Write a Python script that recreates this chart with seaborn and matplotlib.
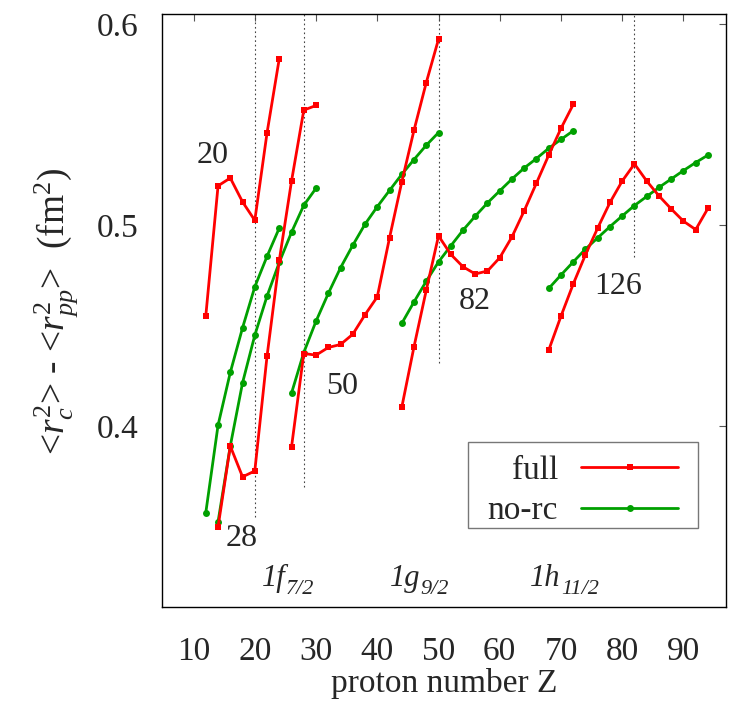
import matplotlib
matplotlib.use("Agg")
import matplotlib.pyplot as plt
import seaborn as sns
from matplotlib.lines import Line2D
from matplotlib.patches import Rectangle

# "full" calculation, one list per chain (even Z only)
z_full_1 = [12, 14, 16, 18, 20, 22, 24]
full_1 = [0.4548, 0.5195, 0.5234, 0.5115, 0.5023, 0.5459, 0.5829]
z_full_2 = [14, 16, 18, 20, 22, 24, 26, 28, 30]
full_2 = [0.3497, 0.3899, 0.3746, 0.3775, 0.4347, 0.4824, 0.5219, 0.5572, 0.5595]
z_full_3 = [26, 28, 30, 32, 34, 36, 38, 40, 42, 44, 46, 48, 50]
full_3 = [0.3895, 0.4360, 0.4352, 0.4390, 0.4405, 0.4456, 0.4553, 0.4642,
          0.4936, 0.5214, 0.5472, 0.5709, 0.5925]
z_full_4 = [44, 46, 48, 50, 52, 54, 56, 58, 60, 62, 64, 66, 68, 70, 72]
full_4 = [0.4092, 0.4394, 0.4675, 0.4946, 0.4854, 0.4792, 0.4756, 0.4771,
          0.4837, 0.4941, 0.5071, 0.5209, 0.5348, 0.5481, 0.5600]
z_full_5 = [68, 70, 72, 74, 76, 78, 80, 82, 84, 86, 88, 90, 92, 94]
full_5 = [0.4377, 0.4546, 0.4706, 0.4852, 0.4985, 0.5112, 0.5219, 0.5304,
          0.5219, 0.5145, 0.5080, 0.5019, 0.4977, 0.5083]

# "no-rc" calculation
z_norc_1 = [12, 14, 16, 18, 20, 22, 24]
norc_1 = [0.3568, 0.4003, 0.4266, 0.4488, 0.4692, 0.4844, 0.4985]
z_norc_2 = [14, 16, 18, 20, 22, 24, 26, 28, 30]
norc_2 = [0.3522, 0.3900, 0.4214, 0.4451, 0.4646, 0.4814, 0.4964, 0.5098, 0.5183]
z_norc_3 = [26, 28, 30, 32, 34, 36, 38, 40, 42, 44, 46, 48, 50]
norc_3 = [0.4163, 0.4365, 0.4521, 0.4659, 0.4787, 0.4899, 0.5004, 0.5091,
          0.5172, 0.5252, 0.5326, 0.5397, 0.5460]
z_norc_4 = [44, 46, 48, 50, 52, 54, 56, 58, 60, 62, 64, 66, 68, 70, 72]
norc_4 = [0.4510, 0.4617, 0.4720, 0.4816, 0.4896, 0.4974, 0.5044, 0.5110,
          0.5170, 0.5229, 0.5284, 0.5331, 0.5382, 0.5426, 0.5469]
z_norc_5 = [68, 70, 72, 74, 76, 78, 80, 82, 84, 86, 88, 90, 92, 94]
norc_5 = [0.4684, 0.4751, 0.4816, 0.4880, 0.4936, 0.4992, 0.5045, 0.5097,
          0.5142, 0.5187, 0.5229, 0.5271, 0.5311, 0.5348]

# magic numbers (vertical dotted lines) and their labels
shell_z = [20, 28, 50, 82]
shell_low = [0.3545, 0.3695, 0.4312, 0.484]
magic_text = ["20", "28", "50", "82", "126"]
magic_z = [13.05, 17.9, 34.2, 56.0, 79.3]
magic_v = [0.5348, 0.344, 0.4194, 0.4617, 0.4696]
# intruder orbitals: main part, subscript, Z where the subscript starts
orbit_main = ["1f", "1g", "1h"]
orbit_sub = ["7/2", "9/2", "11/2"]
orbit_z = [25.0, 47.0, 69.9]

RED = "#ff0000"
GREEN = "#00a000"

sns.set_style("white")
plt.rcParams["font.family"] = ["Liberation Serif", "DejaVu Serif"]
plt.rcParams["mathtext.fontset"] = "custom"
plt.rcParams["mathtext.rm"] = "Liberation Serif"
plt.rcParams["mathtext.it"] = "Liberation Serif:italic"

fig = plt.figure(figsize=(7.47, 7.06), dpi=100)
ax = fig.add_axes([0.2169, 0.140, 0.755, 0.840])

ylo, yhi = 0.3097, 0.605

for z, lo in zip(shell_z, shell_low):
    ax.vlines(z, lo, yhi, colors="#444444", linestyles=(0, (1.5, 2.5)), linewidth=0.8)

full_sets = [(z_full_1, full_1), (z_full_2, full_2), (z_full_3, full_3),
             (z_full_4, full_4), (z_full_5, full_5)]
norc_sets = [(z_norc_1, norc_1), (z_norc_2, norc_2), (z_norc_3, norc_3),
             (z_norc_4, norc_4), (z_norc_5, norc_5)]

for z, v in norc_sets:
    sns.lineplot(x=z, y=v, ax=ax, color=GREEN, marker="o", markersize=5,
                 markeredgewidth=0, linewidth=2, legend=False)
for z, v in full_sets:
    sns.lineplot(x=z, y=v, ax=ax, color=RED, marker="s", markersize=5,
                 markeredgewidth=0, linewidth=2, legend=False)

for t, z, v in zip(magic_text, magic_z, magic_v):
    ax.text(z, v, t, fontsize=23, ha="center", va="center")
for m, s, z in zip(orbit_main, orbit_sub, orbit_z):
    ax.text(z, 0.3202, m, fontsize=22, style="italic", ha="right", va="baseline")
    ax.annotate(s, xy=(z, 0.3202), xytext=(0.5, -6), textcoords="offset points",
                fontsize=16, style="italic", ha="left", va="baseline")

ax.set_xlim(4.85, 96.95)
ax.set_ylim(ylo, yhi)
ax.set_xticks([10, 20, 30, 40, 50, 60, 70, 80, 90])
ax.set_yticks([0.4, 0.5, 0.6])
ax.set_yticklabels(["0.4", "0.5", "0.6"])
ax.tick_params(direction="in", length=5, width=0.8, top=True, right=True,
               labelsize=24, color="#555555")
ax.tick_params(axis="y", pad=17)
ax.tick_params(axis="x", pad=21)
for sp in ax.spines.values():
    sp.set_color("black")
    sp.set_linewidth(1.0)

ax.set_xlabel("proton number Z", fontsize=24, labelpad=1)
ax.set_ylabel(r"<$r_c^2$> - <$r_{pp}^2$>  (fm$^2$)", fontsize=27, labelpad=12)

# legend: gnuplot style box, label on the left and sample on the right
ax.add_patch(Rectangle((0.5426, 0.1332), 0.4078, 0.145, transform=ax.transAxes,
                       fill=True, facecolor="white", edgecolor="#777777",
                       linewidth=1.0, zorder=5))
handles = [Line2D([], [], color=RED, marker="s", markersize=5, markeredgewidth=0, linewidth=2),
           Line2D([], [], color=GREEN, marker="o", markersize=5, markeredgewidth=0, linewidth=2)]
leg = ax.legend(handles, ["full", "no-rc"], loc="upper right", bbox_to_anchor=(0.915, 0.256),
                borderaxespad=0, markerfirst=False, fontsize=24, handlelength=2.9,
                numpoints=1, frameon=False, labelspacing=0.3, borderpad=0,
                handletextpad=0.7)
leg.set_zorder(6)

fig.savefig("out.png", dpi=100)
